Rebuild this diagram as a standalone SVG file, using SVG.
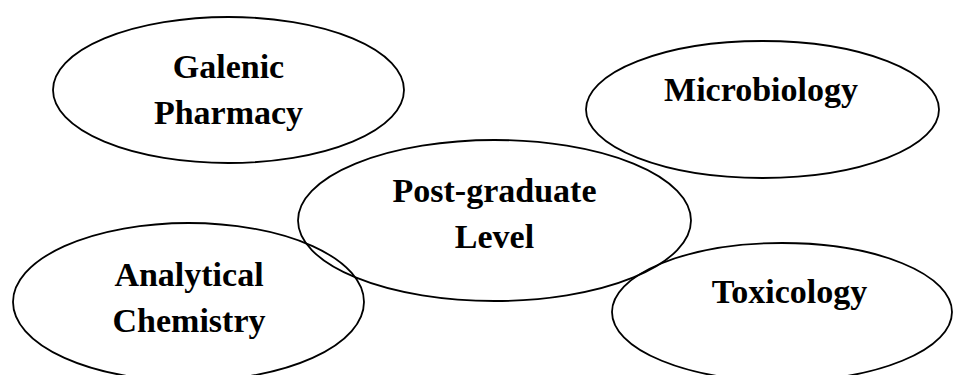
<svg xmlns="http://www.w3.org/2000/svg" width="954" height="375" viewBox="0 0 954 375">
<style>
  .shape { fill: none; stroke: #000; stroke-width: 1.8; }
  .label { font-family: "Liberation Serif", "Times New Roman", serif; font-weight: bold; font-size: 34px; fill: #000; text-anchor: middle; }
</style>
<rect width="954" height="375" fill="#fff"/>
<g id="connectors"></g>
<g id="galenic">
  <ellipse class="shape" cx="228.5" cy="90" rx="175.5" ry="73"/>
  <text class="label" x="228.5" y="78">Galenic</text>
  <text class="label" x="228.5" y="124">Pharmacy</text>
</g>
<g id="microbiology">
  <ellipse class="shape" cx="762.5" cy="109.5" rx="176.5" ry="68.5"/>
  <text class="label" x="761" y="101">Microbiology</text>
</g>
<g id="postgraduate">
  <ellipse class="shape" cx="494.5" cy="220.5" rx="196.5" ry="80.5"/>
  <text class="label" x="494.5" y="202">Post-graduate</text>
  <text class="label" x="494.5" y="248">Level</text>
</g>
<g id="analytical">
  <ellipse class="shape" cx="188.5" cy="302" rx="175.5" ry="79"/>
  <text class="label" x="189" y="286">Analytical</text>
  <text class="label" x="189" y="332">Chemistry</text>
</g>
<g id="toxicology">
  <ellipse class="shape" cx="782" cy="312" rx="170" ry="69"/>
  <text class="label" x="789.5" y="303">Toxicology</text>
</g>
</svg>
